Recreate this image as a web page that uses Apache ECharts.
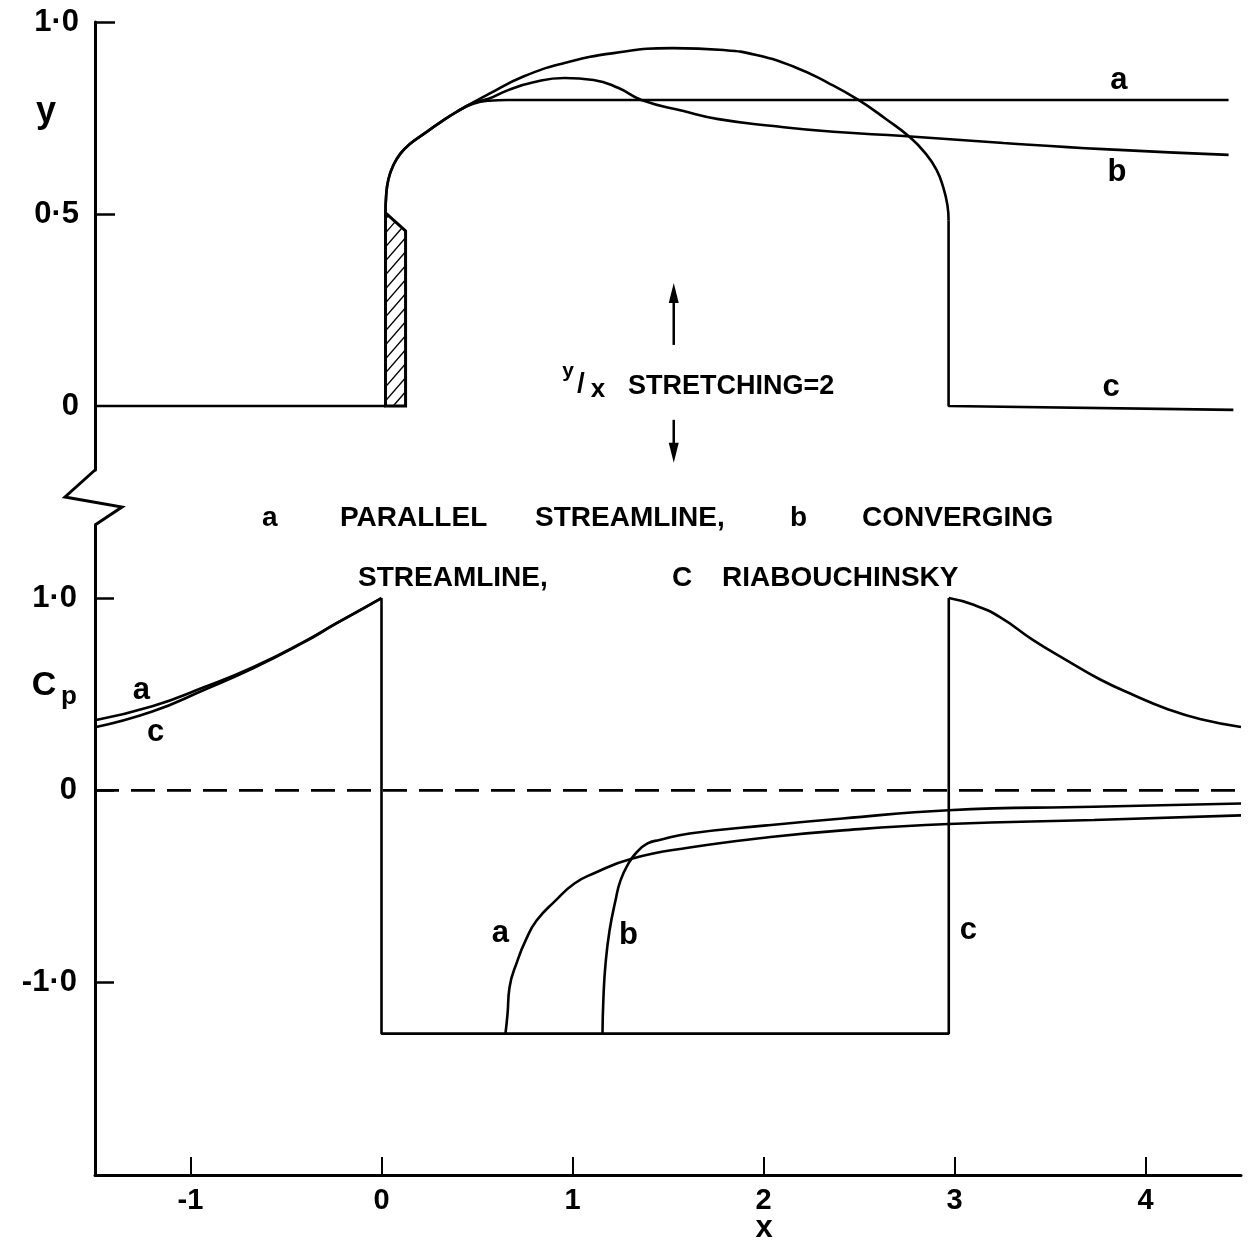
<!DOCTYPE html>
<html><head><meta charset="utf-8">
<script src="https://cdn.jsdelivr.net/npm/echarts@6/dist/echarts.min.js"></script>
<style>html,body{margin:0;padding:0;background:#fff}#c{width:1249px;height:1243px}</style>
</head><body><div id="c"></div>
<script>
// ---------- tick values / labels ----------
const xTicks = [-1, 0, 1, 2, 3, 4];
const xTickLabels = ['-1', '0', '1', '2', '3', '4'];
const yTopLabelValues = [0, 0.5, 1];
const yTopTickValues = [0.5, 1];
const yTopTickLabels = ['0', '0·5', '1·0'];
const yBotLabelValues = [-1, 0, 1];
const yBotTickValues = [-1, 0, 1];
const yBotTickLabels = ['-1·0', '0', '1·0'];

// ---------- top panel (streamline shapes, y) ----------
const plate = [[0.021, 0], [0.021, 0.503], [0.126, 0.456], [0.126, 0]];
const wallLeft = [[-1.5, 0], [0.021, 0]];
const domeC = [[0.021,0.503],[0.024,0.545],[0.036,0.59],[0.063,0.628],[0.10,0.658],[0.15,0.683],[0.22,0.708],[0.30,0.736],[0.40,0.768],[0.56,0.812],[0.743,0.858],[0.958,0.893],[1.215,0.919],[1.524,0.932],[1.791,0.927],[1.963,0.914],[2.162,0.883],[2.340,0.841],[2.497,0.797],[2.639,0.748],[2.764,0.701],[2.848,0.658],[2.906,0.615],[2.942,0.568],[2.963,0.523],[2.969,0.484]];
const domeCRight = [[2.969, 0.484], [2.969, 0], [4.46, -0.01]];
const streamA = [[0.021,0.503],[0.024,0.545],[0.036,0.59],[0.063,0.628],[0.10,0.658],[0.15,0.683],[0.22,0.708],[0.30,0.736],[0.40,0.768],[0.48,0.787],[0.56,0.795],[0.66,0.797],[1.2,0.797],[4.435,0.797]];
const streamB = [[0.40,0.768],[0.48,0.789],[0.56,0.80],[0.66,0.822],[0.796,0.843],[0.958,0.854],[1.11,0.849],[1.241,0.828],[1.361,0.797],[1.581,0.768],[1.764,0.747],[2.052,0.729],[2.366,0.714],[2.733,0.703],[3.257,0.685],[3.78,0.669],[4.435,0.654]];

// ---------- bottom panel (Cp) ----------
const cpALeft = [[-1.5,0.365],[-1.2,0.4375],[-0.93,0.536],[-0.67,0.642],[-0.41,0.771],[-0.236,0.87],[-0.094,0.948],[0,1.0]];
const cpCLeft = [[-1.5,0.328],[-1.2,0.41],[-0.93,0.522],[-0.67,0.636],[-0.41,0.768],[-0.236,0.868],[-0.094,0.947],[0,1.0]];
const cpCJump = [[0, 1.0], [0, -1.265], [2.97, -1.265], [2.97, 1.0]];
const cpCRight = [[2.97,1.0],[3.1,0.965],[3.24,0.9],[3.41,0.783],[3.59,0.675],[3.76,0.578],[3.94,0.495],[4.11,0.425],[4.29,0.37],[4.5,0.33]];
const cpARight = [[0.649,-1.265],[0.660,-1.161],[0.670,-1.026],[0.712,-0.885],[0.754,-0.781],[0.812,-0.677],[0.911,-0.573],[1.010,-0.484],[1.110,-0.432],[1.314,-0.354],[1.613,-0.297],[2.016,-0.245],[2.414,-0.208],[2.969,-0.175],[3.73,-0.154],[4.5,-0.13]];
const cpBRight = [[1.157,-1.265],[1.162,-1.078],[1.173,-0.901],[1.194,-0.729],[1.225,-0.573],[1.251,-0.469],[1.293,-0.380],[1.335,-0.323],[1.393,-0.276],[1.455,-0.258],[1.613,-0.224],[2.016,-0.182],[2.414,-0.146],[2.969,-0.103],[3.73,-0.085],[4.5,-0.068]];
const zeroLine = [[-1.5, 0], [4.5, 0]];

// ---------- curve labels (grid, text, x, y) ----------
const curveLabels = [
  [0, 'a', 3.86, 0.849], [0, 'b', 3.85, 0.609], [0, 'c', 3.82, 0.049],
  [1, 'a', -1.257, 0.521], [1, 'c', -1.183, 0.302],
  [1, 'a', 0.623, -0.745], [1, 'b', 1.293, -0.755], [1, 'c', 3.073, -0.729]
];
const arrows = [[1.53, 0.159, 0.32], [1.53, -0.036, -0.148]];

const FONT = 'Liberation Sans';
const chart = echarts.init(document.getElementById('c'), null, {renderer: 'canvas'});

function ln(data, grid, smooth, extra) {
  return Object.assign({
    type: 'line', data: data, xAxisIndex: grid, yAxisIndex: grid,
    showSymbol: false, symbol: 'none', smooth: smooth ? 0.5 : false,
    lineStyle: {color: '#000', width: 2.6}, silent: true, animation: false, clip: false
  }, extra || {});
}

function clipSeg(A, B, poly) {
  let t0 = 0, t1 = 1;
  const cx = poly.reduce((s, p) => s + p[0], 0) / poly.length;
  const cy = poly.reduce((s, p) => s + p[1], 0) / poly.length;
  for (let i = 0; i < poly.length; i++) {
    const P = poly[i], Q = poly[(i + 1) % poly.length];
    let nx = -(Q[1] - P[1]), ny = Q[0] - P[0];
    if (nx * (cx - P[0]) + ny * (cy - P[1]) < 0) { nx = -nx; ny = -ny; }
    const num = nx * (A[0] - P[0]) + ny * (A[1] - P[1]);
    const den = nx * (B[0] - A[0]) + ny * (B[1] - A[1]);
    if (Math.abs(den) < 1e-9) { if (num < 0) return null; continue; }
    const t = -num / den;
    if (den > 0) t0 = Math.max(t0, t); else t1 = Math.min(t1, t);
    if (t0 > t1) return null;
  }
  return [A[0] + t0 * (B[0] - A[0]), A[1] + t0 * (B[1] - A[1]), A[0] + t1 * (B[0] - A[0]), A[1] + t1 * (B[1] - A[1])];
}

const axisLineStyle = {color: '#000', width: 3};
const labelStyle = {color: '#000', fontFamily: FONT, fontWeight: 'bold'};

const option = {
  backgroundColor: '#fff',
  animation: false,
  grid: [
    {left: 95, right: 8, top: 22, height: 448},
    {left: 95, right: 8, top: 525, height: 650}
  ],
  xAxis: [
    {gridIndex: 0, type: 'value', min: -1.5, max: 4.5, show: false},
    {gridIndex: 1, type: 'value', min: -1.5, max: 4.5, position: 'bottom',
     axisLine: {show: true, onZero: false, lineStyle: axisLineStyle},
     axisTick: {show: true, inside: true, length: 18, lineStyle: {color: '#000', width: 2}, customValues: xTicks},
     axisLabel: Object.assign({fontSize: 29, margin: 11, customValues: xTicks,
       formatter: v => xTickLabels[xTicks.indexOf(Math.round(v))] || ''}, labelStyle),
     splitLine: {show: false}}
  ],
  yAxis: [
    {gridIndex: 0, type: 'value', min: -0.1667, max: 1,
     axisLine: {show: true, onZero: false, lineStyle: axisLineStyle},
     axisTick: {show: true, inside: true, length: 20, lineStyle: {color: '#000', width: 2.5}, customValues: yTopTickValues},
     axisLabel: Object.assign({fontSize: 31, margin: 16, customValues: yTopLabelValues,
       formatter: v => { const i = yTopLabelValues.findIndex(t => Math.abs(t - v) < 1e-6); return i >= 0 ? yTopTickLabels[i] : ''; }}, labelStyle),
     splitLine: {show: false}},
    {gridIndex: 1, type: 'value', min: -2, max: 1.38,
     axisLine: {show: true, onZero: false, lineStyle: axisLineStyle},
     axisTick: {show: true, inside: true, length: 19, lineStyle: {color: '#000', width: 2.5}, customValues: yBotTickValues},
     axisLabel: Object.assign({fontSize: 31, margin: 18, customValues: yBotLabelValues,
       formatter: v => { const i = yBotLabelValues.findIndex(t => Math.abs(t - v) < 1e-6); return i >= 0 ? yBotTickLabels[i] : ''; }}, labelStyle),
     splitLine: {show: false}}
  ],
  series: [
    {
      type: 'custom', xAxisIndex: 0, yAxisIndex: 0, data: [[0.07, 0.25]], silent: true, clip: false,
      renderItem: function (params, api) {
        const pts = plate.map(p => api.coord(p));
        const xs = pts.map(p => p[0]), ys = pts.map(p => p[1]);
        const minX = Math.min.apply(null, xs), maxX = Math.max.apply(null, xs);
        const minY = Math.min.apply(null, ys), maxY = Math.max.apply(null, ys);
        const w = maxX - minX, slope = 1.15, step = 14;
        const children = [];
        for (let c = minY + 6; c <= maxY + w * slope + step; c += step) {
          const s = clipSeg([minX - 2, c + 2 * slope], [maxX + 2, c - (w + 2) * slope], pts);
          if (s) children.push({type: 'line', shape: {x1: s[0], y1: s[1], x2: s[2], y2: s[3]}, style: {stroke: '#000', lineWidth: 1.4}});
        }
        children.push({type: 'polygon', shape: {points: pts}, style: {fill: 'none', stroke: '#000', lineWidth: 3, lineJoin: 'miter'}});
        return {type: 'group', children: children};
      }
    },
    ln(wallLeft, 0, false),
    ln(domeC, 0, true),
    ln(domeCRight, 0, false),
    ln(streamA, 0, true),
    ln(streamB, 0, true),
    ln(zeroLine, 1, false, {lineStyle: {color: '#000', width: 2.6, type: [24, 12]}}),
    ln(cpALeft, 1, true),
    ln(cpCLeft, 1, true),
    ln(cpCJump, 1, false),
    ln(cpCRight, 1, true),
    ln(cpARight, 1, true),
    ln(cpBRight, 1, true)
  ]
};
chart.setOption(option);

// ---------- annotations (positions converted through the axes) ----------
function px(grid, x, y) { return chart.convertToPixel({xAxisIndex: grid, yAxisIndex: grid}, [x, y]); }
const g = [];
curveLabels.forEach(l => {
  const p = px(l[0], l[2], l[3]);
  g.push({type: 'text', x: p[0], y: p[1], style: {text: l[1], fill: '#000', font: 'bold 31px ' + FONT, align: 'center', verticalAlign: 'middle'}});
});
arrows.forEach(a => {
  const p0 = px(0, a[0], a[1]), p1 = px(0, a[0], a[2]);
  const dir = p1[1] < p0[1] ? -1 : 1;
  g.push({type: 'line', shape: {x1: p0[0], y1: p0[1], x2: p1[0], y2: p1[1] - dir * 12}, style: {stroke: '#000', lineWidth: 2.5}});
  g.push({type: 'polygon', shape: {points: [[p1[0], p1[1]], [p1[0] - 5, p1[1] - dir * 20], [p1[0] + 5, p1[1] - dir * 20]]}, style: {fill: '#000'}});
});
// axis break zigzag between the two panels
const topBottom = px(0, -1.5, -0.1667), botTop = px(1, -1.5, 1.38);
const ax = topBottom[0];
g.push({type: 'polyline', shape: {points: [[ax, topBottom[1]], [ax - 30, topBottom[1] + 27], [ax + 27, topBottom[1] + 37], [ax, botTop[1]]]}, style: {stroke: '#000', lineWidth: 3, fill: 'none'}});
// axis titles
g.push({type: 'text', x: 46, y: 112, style: {text: 'y', fill: '#000', font: 'bold 36px ' + FONT, align: 'center', verticalAlign: 'middle'}});
g.push({type: 'text', x: 44, y: 686, style: {text: 'C', fill: '#000', font: 'bold 34px ' + FONT, align: 'center', verticalAlign: 'middle'}});
g.push({type: 'text', x: 69, y: 697, style: {text: 'p', fill: '#000', font: 'bold 26px ' + FONT, align: 'center', verticalAlign: 'middle'}});
g.push({type: 'text', x: 764, y: 1228, style: {text: 'x', fill: '#000', font: 'bold 31px ' + FONT, align: 'center', verticalAlign: 'middle'}});
// stretching note
g.push({type: 'text', x: 568, y: 371, style: {text: 'y', fill: '#000', font: 'bold 21px ' + FONT, align: 'center', verticalAlign: 'middle'}});
g.push({type: 'text', x: 581, y: 384, style: {text: '/', fill: '#000', font: 'bold 28px ' + FONT, align: 'center', verticalAlign: 'middle'}});
g.push({type: 'text', x: 598, y: 390, style: {text: 'x', fill: '#000', font: 'bold 26px ' + FONT, align: 'center', verticalAlign: 'middle'}});
g.push({type: 'text', x: 628, y: 387, style: {text: 'STRETCHING=2', fill: '#000', font: 'bold 27px ' + FONT, align: 'left', verticalAlign: 'middle'}});
// legend text
const leg = [[262, 518, 'a'], [340, 518, 'PARALLEL'], [535, 518, 'STREAMLINE,'], [790, 518, 'b'], [862, 518, 'CONVERGING'],
             [358, 578, 'STREAMLINE,'], [672, 578, 'C'], [722, 578, 'RIABOUCHINSKY']];
leg.forEach(l => g.push({type: 'text', x: l[0], y: l[1], style: {text: l[2], fill: '#000', font: 'bold 28px ' + FONT, align: 'left', verticalAlign: 'middle'}}));
chart.setOption({graphic: g});
</script></body></html>
